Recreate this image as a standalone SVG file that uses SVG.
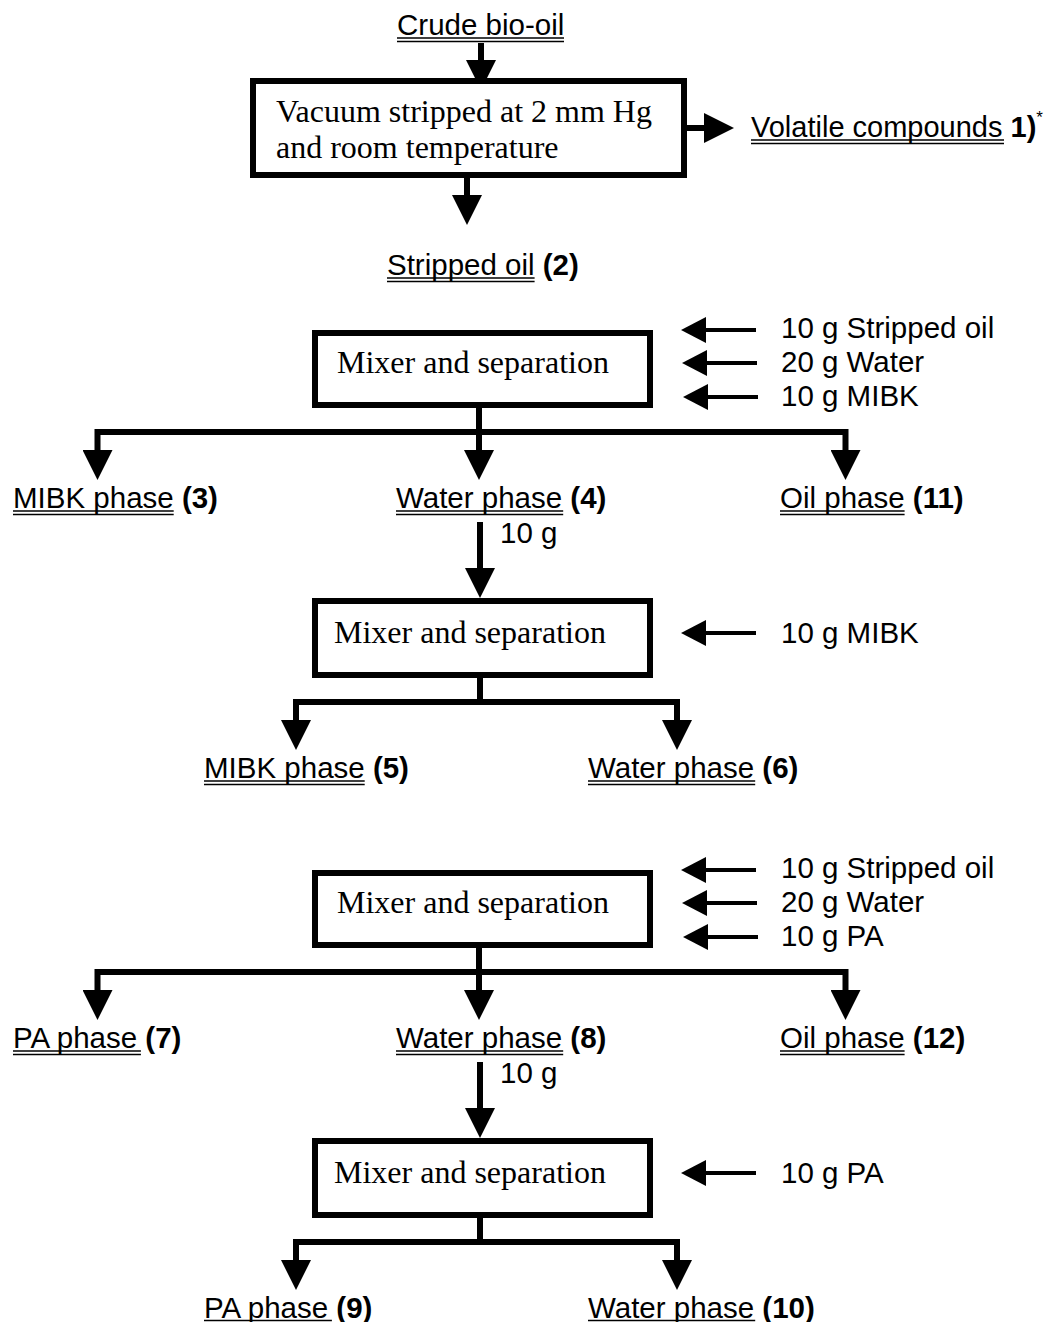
<svg xmlns="http://www.w3.org/2000/svg" width="1049" height="1322" viewBox="0 0 1049 1322">
<style>
.box{fill:#fff;stroke:#000;stroke-width:6}
.serif{font-family:"Liberation Serif","Times New Roman",serif;font-size:32px;fill:#000}
.sans{font-family:"Liberation Sans",Arial,sans-serif;font-size:29.5px;fill:#000}
.b{font-weight:bold}
.ul{stroke:#000;stroke-width:1.6;fill:none}
.wire{stroke:#000;stroke-width:6;fill:none;stroke-linejoin:miter}
.thin{stroke:#000;stroke-width:4;fill:none}
</style>
<defs>
<marker id="ah" markerUnits="userSpaceOnUse" markerWidth="30" markerHeight="30" viewBox="0 0 30 30" refX="0" refY="15" orient="auto"><path d="M0,0 L30,15 L0,30 Z" fill="#000"/></marker>
<marker id="ahs" markerUnits="userSpaceOnUse" markerWidth="25" markerHeight="26" viewBox="0 0 25 26" refX="0" refY="13" orient="auto"><path d="M0,0 L25,13 L0,26 Z" fill="#000"/></marker>
</defs>
<rect width="1049" height="1322" fill="#fff"/>

<g id="connectors">
<path class="wire" d="M481,43 V60" marker-end="url(#ah)"/>
<path class="wire" d="M467,178 V195" marker-end="url(#ah)"/>
<path class="wire" d="M687,128 H704" marker-end="url(#ah)"/>
<path class="thin" d="M756,330 H706" marker-end="url(#ahs)"/>
<path class="thin" d="M757,363 H707" marker-end="url(#ahs)"/>
<path class="thin" d="M758,397 H708" marker-end="url(#ahs)"/>
<path class="wire" d="M479,408 V450" marker-end="url(#ah)"/>
<path class="wire" d="M479,432 H97.5 V450" marker-end="url(#ah)"/>
<path class="wire" d="M479,432 H845.5 V450" marker-end="url(#ah)"/>
<path class="wire" d="M480,522 V568" marker-end="url(#ah)"/>
<path class="thin" d="M756,633 H706" marker-end="url(#ahs)"/>
<path class="wire" d="M480,678 V702"/>
<path class="wire" d="M480,702 H296 V720" marker-end="url(#ah)"/>
<path class="wire" d="M480,702 H677 V720" marker-end="url(#ah)"/>
<path class="thin" d="M756,870 H706" marker-end="url(#ahs)"/>
<path class="thin" d="M757,903 H707" marker-end="url(#ahs)"/>
<path class="thin" d="M758,937 H708" marker-end="url(#ahs)"/>
<path class="wire" d="M479,948 V990" marker-end="url(#ah)"/>
<path class="wire" d="M479,972 H97.5 V990" marker-end="url(#ah)"/>
<path class="wire" d="M479,972 H845.5 V990" marker-end="url(#ah)"/>
<path class="wire" d="M480,1062 V1108" marker-end="url(#ah)"/>
<path class="thin" d="M756,1173 H706" marker-end="url(#ahs)"/>
<path class="wire" d="M480,1218 V1242"/>
<path class="wire" d="M480,1242 H296 V1260" marker-end="url(#ah)"/>
<path class="wire" d="M480,1242 H677 V1260" marker-end="url(#ah)"/>
</g>

<g id="crude">
<text class="sans" x="397" y="35">Crude bio-oil</text>
<path class="ul" d="M397,38 H564 M397,41.5 H564"/>
</g>
<g id="vacuum">
<rect class="box" x="253" y="81" width="431" height="94"/>
<text class="serif" x="276" y="122">Vacuum stripped at 2 mm Hg</text>
<text class="serif" x="276" y="158">and room temperature</text>
</g>
<g id="volatile">
<text class="sans" x="751" y="137" style="font-size:29px">Volatile compounds <tspan class="b">1)</tspan><tspan style="font-size:17px" dy="-14">*</tspan></text>
<path class="ul" d="M751,140 H1004 M751,143.5 H1004"/>
</g>
<g id="stripped">
<text class="sans" x="387" y="275">Stripped oil <tspan class="b">(2)</tspan></text>
<path class="ul" d="M387,278 H534.6 M387,281.5 H534.6"/>
</g>

<g id="mixer1">
<rect class="box" x="315" y="333" width="335" height="72"/>
<text class="serif" x="337" y="373">Mixer and separation</text>
</g>
<g id="inputs1">
<text class="sans" x="781" y="338">10 g Stripped oil</text>
<text class="sans" x="781" y="372">20 g Water</text>
<text class="sans" x="781" y="406">10 g MIBK</text>
</g>
<g id="mibk3">
<text class="sans" x="13" y="508">MIBK phase <tspan class="b">(3)</tspan></text>
<path class="ul" d="M13,511 H173.7 M13,514.5 H173.7"/>
</g>
<g id="water4">
<text class="sans" x="396" y="508">Water phase <tspan class="b">(4)</tspan></text>
<path class="ul" d="M396,511 H563.2 M396,514.5 H563.2"/>
</g>
<g id="oil11">
<text class="sans" x="780" y="508">Oil phase <tspan class="b">(11)</tspan></text>
<path class="ul" d="M780,511 H904.6 M780,514.5 H904.6"/>
</g>
<text class="sans" x="500" y="543">10 g</text>
<g id="mixer2">
<rect class="box" x="315" y="601" width="335" height="74"/>
<text class="serif" x="334" y="643">Mixer and separation</text>
</g>
<text class="sans" x="781" y="643">10 g MIBK</text>
<g id="mibk5">
<text class="sans" x="204" y="778">MIBK phase <tspan class="b">(5)</tspan></text>
<path class="ul" d="M204,781 H364.7 M204,784.5 H364.7"/>
</g>
<g id="water6">
<text class="sans" x="588" y="778">Water phase <tspan class="b">(6)</tspan></text>
<path class="ul" d="M588,781 H755.2 M588,784.5 H755.2"/>
</g>

<g id="mixer3">
<rect class="box" x="315" y="873" width="335" height="72"/>
<text class="serif" x="337" y="913">Mixer and separation</text>
</g>
<g id="inputs3">
<text class="sans" x="781" y="878">10 g Stripped oil</text>
<text class="sans" x="781" y="912">20 g Water</text>
<text class="sans" x="781" y="946">10 g PA</text>
</g>
<g id="pa7">
<text class="sans" x="13" y="1048">PA phase <tspan class="b">(7)</tspan></text>
<path class="ul" d="M13,1051 H140.9 M13,1054.5 H140.9"/>
</g>
<g id="water8">
<text class="sans" x="396" y="1048">Water phase <tspan class="b">(8)</tspan></text>
<path class="ul" d="M396,1051 H563.2 M396,1054.5 H563.2"/>
</g>
<g id="oil12">
<text class="sans" x="780" y="1048">Oil phase <tspan class="b">(12)</tspan></text>
<path class="ul" d="M780,1051 H904.6 M780,1054.5 H904.6"/>
</g>
<text class="sans" x="500" y="1083">10 g</text>
<g id="mixer4">
<rect class="box" x="315" y="1141" width="335" height="74"/>
<text class="serif" x="334" y="1183">Mixer and separation</text>
</g>
<text class="sans" x="781" y="1183">10 g PA</text>
<g id="pa9">
<text class="sans" x="204" y="1318">PA phase <tspan class="b">(9)</tspan></text>
<path class="ul" d="M204,1320.5 H331.9"/>
</g>
<g id="water10">
<text class="sans" x="588" y="1318">Water phase <tspan class="b">(10)</tspan></text>
<path class="ul" d="M588,1320.5 H755.2"/>
</g>
</svg>
